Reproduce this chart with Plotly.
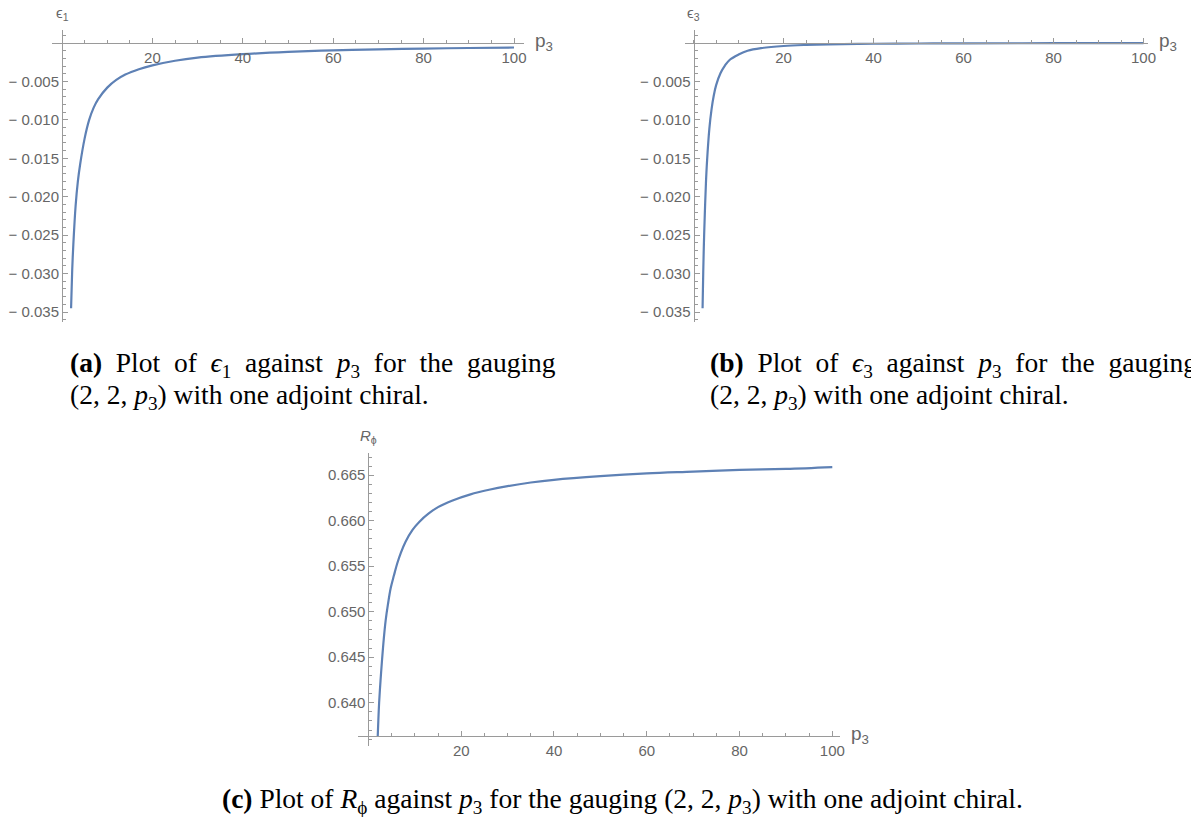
import plotly.graph_objects as go

W, H = 1191, 817

# ---------------- data ----------------
p3_a = [2, 2.25, 2.5, 3, 3.5, 4, 5, 6, 7, 8, 10, 12, 14, 17, 20, 25, 30, 40, 50, 60, 70, 80, 90, 100]
eps1 = [-0.0345, -0.0295, -0.0262, -0.0212, -0.0180, -0.0158, -0.0124, -0.0100, -0.0084, -0.0073,
        -0.0058, -0.0048, -0.0041, -0.0034, -0.0029, -0.0023, -0.0019, -0.00145, -0.00115, -0.00095,
        -0.00082, -0.00072, -0.00064, -0.00058]

p3_b = [2, 2.15, 2.3, 2.5, 2.75, 3, 3.5, 4, 4.5, 5, 6, 7, 8, 10, 12, 15, 20, 25, 30, 40, 50, 60, 80, 100]
eps3 = [-0.0345, -0.0298, -0.0260, -0.0222, -0.0182, -0.0153, -0.0112, -0.0086, -0.0068, -0.0055,
        -0.0039, -0.0029, -0.0022, -0.0015, -0.0010, -0.00066, -0.00038, -0.00024, -0.00016,
        -0.00009, -0.00006, -0.00004, -0.00002, -0.00001]

p3_c = [2, 2.15, 2.3, 2.6, 2.9, 3.3, 3.7, 4.2, 4.8, 5.5, 6.2, 7, 8, 9.5, 11, 13, 15, 18, 22, 26, 30,
        35, 40, 50, 60, 70, 80, 90, 100]
R_phi = [0.6363, 0.6383, 0.6400, 0.6424, 0.6445, 0.6470, 0.6490, 0.6508, 0.6526, 0.6540, 0.6553,
         0.6565, 0.6577, 0.6590, 0.6599, 0.6608, 0.6615, 0.6622, 0.6629, 0.6634, 0.6638, 0.6642,
         0.6645, 0.6649, 0.6652, 0.6654, 0.6656, 0.6657, 0.6659]

x_ticks = [20, 40, 60, 80, 100]
x_ticklabels = ["20", "40", "60", "80", "100"]
eps_ticks = [-0.005, -0.010, -0.015, -0.020, -0.025, -0.030, -0.035]
eps_ticklabels = ["\u2212 0.005", "\u2212 0.010", "\u2212 0.015", "\u2212 0.020", "\u2212 0.025",
                  "\u2212 0.030", "\u2212 0.035"]
R_ticks = [0.640, 0.645, 0.650, 0.655, 0.660, 0.665]
R_ticklabels = ["0.640", "0.645", "0.650", "0.655", "0.660", "0.665"]

S = " \u00a0"  # widened inter-word gap (justified caption lines)
captions = [
    S.join(["<b>(a)</b>", "Plot", "of", "<i>\u03f5</i><sub>1</sub>", "against",
            "<i>p</i><sub>3</sub>", "for", "the", "gauging"]),
    "(2, 2, <i>p</i><sub>3</sub>) with one adjoint chiral.",
    S.join(["<b>(b)</b>", "Plot", "of", "<i>\u03f5</i><sub>3</sub>", "against",
            "<i>p</i><sub>3</sub>", "for", "the", "gauging"]),
    "(2, 2, <i>p</i><sub>3</sub>) with one adjoint chiral.",
    "<b>(c)</b> Plot of <i>R</i><sub>\u03d5</sub> against <i>p</i><sub>3</sub> for the gauging "
    "(2, 2, <i>p</i><sub>3</sub>) with one adjoint chiral.",
]

# ---------------- styling / layout ----------------
LINE = "#5E81B5"
AX = "#9a9a9a"
TXT = "#666666"
TICKFONT = dict(family="Liberation Sans", size=15, color=TXT)


def px_x(p):
    return p / W


def px_y(p):
    return 1 - p / H


panels = [
    dict(box=(52, 527.5, 30, 322), xr=(-2.3, 102.2), yr=(-0.0363, 0.0017), oy=0.0,
         x=p3_a, y=eps1, ylab="\u03f5<sub>1</sub>", yt=eps_ticks, ytl=eps_ticklabels, ydt=0.001),
    dict(box=(689.2, 1155.8, 30, 322), xr=(-2.0, 101.0), yr=(-0.0363, 0.0017), oy=0.0,
         x=p3_b, y=eps3, ylab="\u03f5<sub>3</sub>", yt=eps_ticks, ytl=eps_ticklabels, ydt=0.001),
    dict(box=(360.2, 845.4, 453.4, 746.4), xr=(-2.3, 101.6), yr=(0.6352, 0.6674), oy=0.63634,
         x=p3_c, y=R_phi, ylab="<i>R</i><sub>\u03d5</sub>", yt=R_ticks, ytl=R_ticklabels, ydt=0.001),
]

fig = go.Figure()
layout = dict(width=W, height=H, margin=dict(l=0, r=0, t=0, b=0), autosize=False,
              paper_bgcolor="white", plot_bgcolor="white", showlegend=False)
annotations = []

for i, pnl in enumerate(panels, start=1):
    x0, x1, ytop, ybot = pnl["box"]
    xd = [px_x(x0), px_x(x1)]
    yd = [px_y(ybot), px_y(ytop)]
    xr, yr = pnl["xr"], pnl["yr"]
    xpos = yd[0] + (pnl["oy"] - yr[0]) / (yr[1] - yr[0]) * (yd[1] - yd[0])
    ypos = xd[0] + (0 - xr[0]) / (xr[1] - xr[0]) * (xd[1] - xd[0])
    xs = "" if i == 1 else str(i)
    fig.add_trace(go.Scatter(x=pnl["x"], y=pnl["y"], mode="lines",
                             line=dict(color=LINE, width=2.2, shape="spline", smoothing=1.0),
                             xaxis="x" + xs, yaxis="y" + xs, hoverinfo="skip"))
    layout["xaxis" + xs] = dict(
        domain=xd, range=list(xr), anchor="free", position=xpos, side="bottom",
        showline=True, linecolor=AX, linewidth=1, showgrid=False, zeroline=False,
        tickmode="array", tickvals=x_ticks, ticktext=x_ticklabels,
        ticks="inside", ticklen=5, tickcolor=AX, tickwidth=1, tickfont=TICKFONT,
        ticklabelstandoff=1, fixedrange=True,
        minor=dict(dtick=5, tick0=0, ticks="inside", ticklen=3, tickcolor=AX, showgrid=False),
    )
    layout["yaxis" + xs] = dict(
        domain=yd, range=list(yr), anchor="free", position=ypos, side="left",
        showline=True, linecolor=AX, linewidth=1, showgrid=False, zeroline=False,
        tickmode="array", tickvals=pnl["yt"], ticktext=pnl["ytl"],
        ticks="inside", ticklen=5, tickcolor=AX, tickwidth=1, tickfont=TICKFONT,
        fixedrange=True,
        minor=dict(dtick=pnl["ydt"], tick0=0, ticks="inside", ticklen=3, tickcolor=AX, showgrid=False),
    )
    annotations.append(dict(xref="x" + xs, yref="y" + xs, x=0, y=yr[1], text=pnl["ylab"],
                            showarrow=False, xanchor="center", yanchor="bottom", yshift=5,
                            font=dict(family="Liberation Sans", size=15, color=TXT)))
    annotations.append(dict(xref="x" + xs, yref="y" + xs, x=xr[1], y=pnl["oy"],
                            text="p<sub>3</sub>", showarrow=False,
                            xanchor="left", yanchor="middle", xshift=9, yshift=1,
                            font=dict(family="Liberation Sans", size=19, color=TXT)))

CAP = dict(family="Liberation Serif", size=27.5, color="black")
cap_pos = [(68, 364), (68, 396), (713, 364), (713, 396), (221, 800)]
for txt, (cx, cy) in zip(captions, cap_pos):
    annotations.append(dict(xref="paper", yref="paper", x=px_x(cx), y=px_y(cy), text=txt,
                            showarrow=False, xanchor="left", yanchor="middle", font=CAP))

layout["annotations"] = annotations
fig.update_layout(**layout)
fig.write_html("out.html", config={"displayModeBar": False, "staticPlot": True},
               post_script="document.body.style.margin='0px';document.body.style.overflow='hidden';")
